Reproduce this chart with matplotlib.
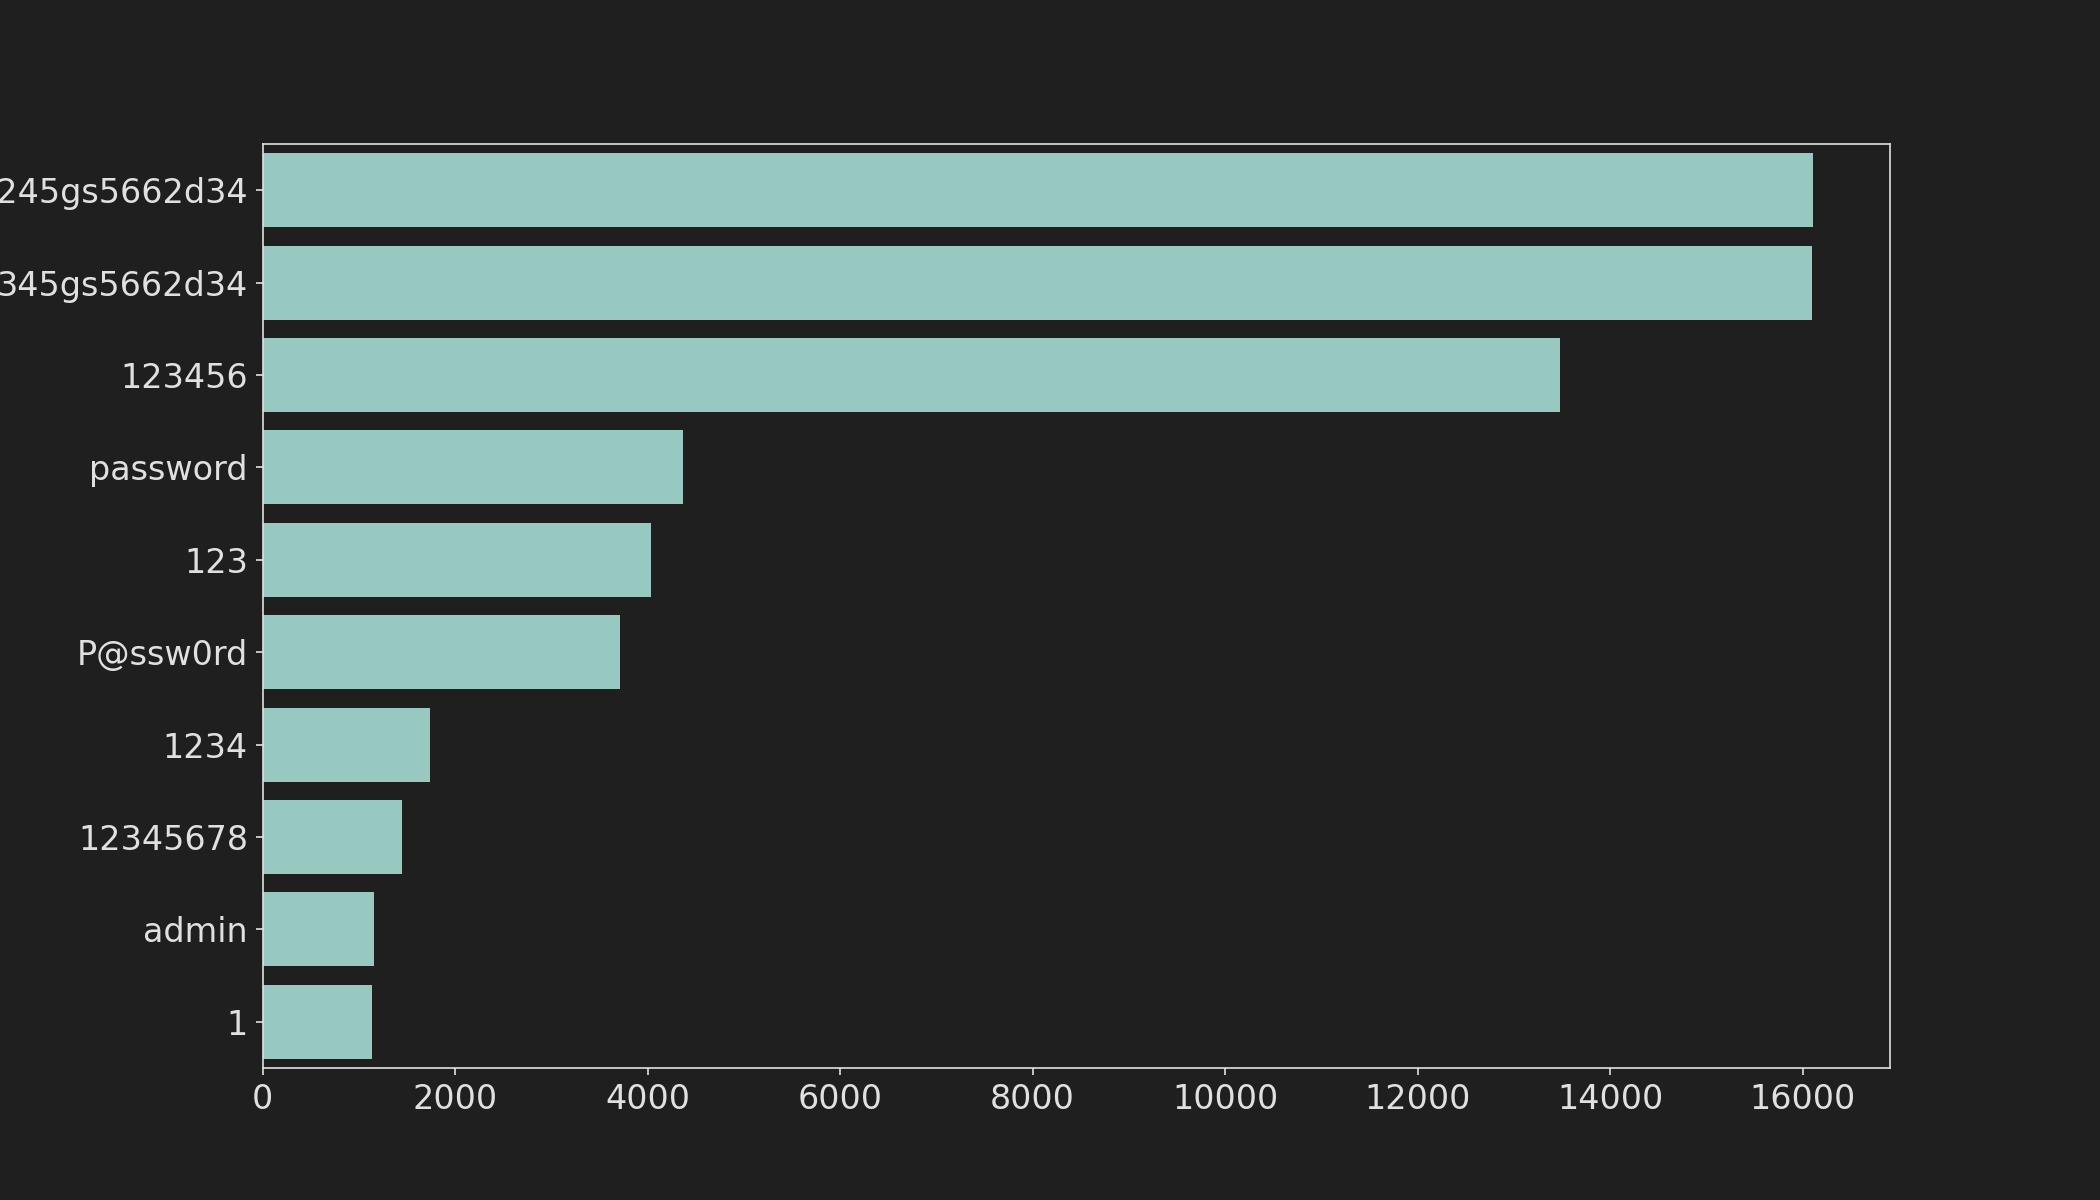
import matplotlib
matplotlib.use("Agg")
import matplotlib.pyplot as plt

# top passwords seen by the honeypot
passwords = ["3245gs5662d34", "345gs5662d34", "123456", "password", "123",
             "P@ssw0rd", "1234", "12345678", "admin", "1"]
counts = [16100, 16090, 13480, 4370, 4040, 3715, 1742, 1450, 1160, 1140]

bg = "#1f1f1f"
fg = "#e0e0e0"

fig = plt.figure(figsize=(14, 8), dpi=150, facecolor=bg)
ax = fig.add_subplot(1, 1, 1)
ax.set_facecolor(bg)

ypos = list(range(len(passwords)))
ax.barh(ypos, counts, height=0.8, color="#97c9c1")
ax.set_yticks(ypos)
ax.set_yticklabels(passwords)
ax.set_ylim(len(passwords) - 0.5, -0.5)
ax.set_xlim(0, max(counts) * 1.05)

ax.tick_params(colors=fg, labelsize=16)
for s in ax.spines.values():
    s.set_color(fg)

plt.savefig("out.png", dpi=150, facecolor=bg)
